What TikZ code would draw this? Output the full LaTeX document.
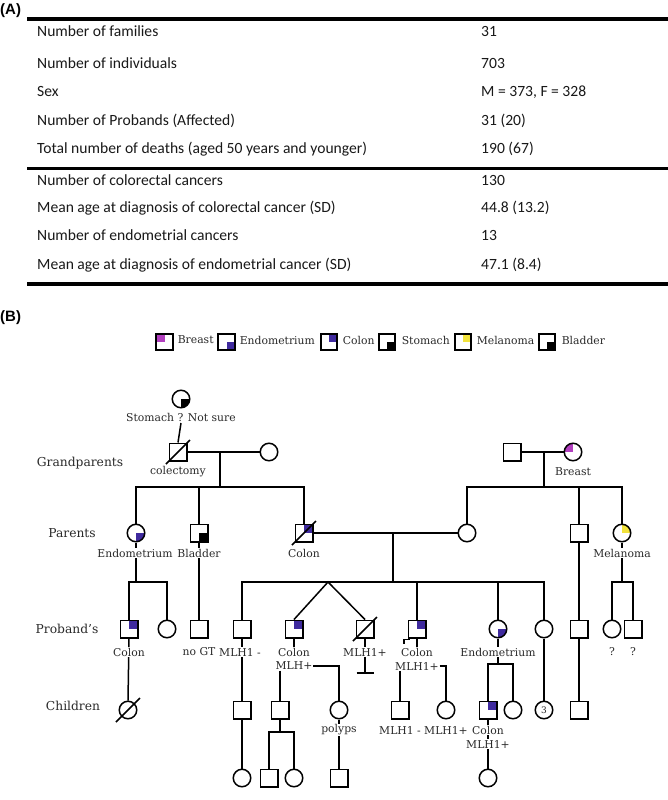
\documentclass[tikz,border=0pt]{standalone}
\usepackage{fontspec}
\setmainfont{DejaVu Serif}
\newfontfamily\tabfont{Carlito}
\newfontfamily\headfont{Liberation Sans}
\usetikzlibrary{arrows.meta}
\definecolor{purp}{HTML}{3F2A9E}
\definecolor{mag}{HTML}{B23FBF}
\definecolor{yel}{HTML}{F2E33C}
\definecolor{txt}{HTML}{2A2A2A}
\newcommand\pedfont{\fontsize{10.8}{12}\selectfont}
\begin{document}
\begin{tikzpicture}[x=1pt,y=-1pt,
  sym/.style={draw=black, line width=1.5pt, inner sep=0pt, fill=white},
  sq/.style={sym, rectangle, minimum size=17.5pt},
  ci/.style={sym, circle, minimum size=17.5pt},
  lsq/.style={draw=black, line width=2.4pt, inner sep=0pt, fill=white, rectangle, minimum size=16.5pt},
  UR/.style={path picture={\fill[#1] (path picture bounding box.center) rectangle (path picture bounding box.north east);}},
  UL/.style={path picture={\fill[#1] (path picture bounding box.center) rectangle (path picture bounding box.north west);}},
  LR/.style={path picture={\fill[#1] (path picture bounding box.center) rectangle (path picture bounding box.south east);}},
  ln/.style={line width=1.5pt, draw=black, line join=miter},
  lbl/.style={font=\pedfont, text=txt, fill=white, inner sep=0.6pt},
  lev/.style={font=\fontsize{12.3}{14}\selectfont, text=txt, inner sep=0pt},
  tab/.style={font=\tabfont\fontsize{15.6}{18}\selectfont, text=black!90, anchor=base west, inner sep=0pt},
  head/.style={font=\headfont\bfseries\fontsize{15}{18}\selectfont, anchor=west, inner sep=0pt},
]
\useasboundingbox[fill=white] (0,0) rectangle (668,800);

% ---------------- (A) table ----------------
\node[head] (hA) at (0,11) {(A)};
\draw[line width=3.5pt] (27,19) -- (668,19);
\draw[line width=3pt] (27,168) -- (668,168);
\draw[line width=3.5pt] (27,284) -- (668,284);
\node[tab] (t1) at (37,37) {Number of families};
\node[tab] (v1) at (481,37) {31};
\node[tab] (t2) at (37,69) {Number of individuals};
\node[tab] (v2) at (481,69) {703};
\node[tab] (t3) at (37,96) {Sex};
\node[tab] (v3) at (481,96) {M = 373, F = 328};
\node[tab] (t4) at (37,125) {Number of Probands (Affected)};
\node[tab] (v4) at (481,125) {31 (20)};
\node[tab] (t5) at (37,153) {Total number of deaths (aged 50 years and younger)};
\node[tab] (v5) at (481,153) {190 (67)};
\node[tab] (t6) at (37,185) {Number of colorectal cancers};
\node[tab] (v6) at (481,185) {130};
\node[tab] (t7) at (37,212) {Mean age at diagnosis of colorectal cancer (SD)};
\node[tab] (v7) at (481,212) {44.8 (13.2)};
\node[tab] (t8) at (37,240) {Number of endometrial cancers};
\node[tab] (v8) at (481,240) {13};
\node[tab] (t9) at (37,269) {Mean age at diagnosis of endometrial cancer (SD)};
\node[tab] (v9) at (481,269) {47.1 (8.4)};

% ---------------- (B) legend ----------------
\node[head] (hB) at (0,318) {(B)};
\node[lsq, UL=mag] (k1) at (164.5,342) {};
\node[lbl, anchor=west] (k1t) at (177,340) {Breast};
\node[lsq, LR=purp] (k2) at (226.5,342) {};
\node[lbl, anchor=west] (k2t) at (239,340) {Endometrium};
\node[lsq, UR=purp] (k3) at (329,342) {};
\node[lbl, anchor=west] (k3t) at (342,340) {Colon};
\node[lsq, LR=black] (k4) at (387,342) {};
\node[lbl, anchor=west] (k4t) at (401,340) {Stomach};
\node[lsq, UR=yel] (k5) at (463,342) {};
\node[lbl, anchor=west] (k5t) at (476,340) {Melanoma};
\node[lsq, LR=black] (k6) at (547,342) {};
\node[lbl, anchor=west] (k6t) at (561,340) {Bladder};

% ---------------- pedigree symbols ----------------
\node[ci, LR=black] (st) at (181,399) {};
\node[sq] (g1) at (178,452) {};
\node[ci] (g2) at (269,452) {};
\node[sq] (g3) at (512,452) {};
\node[ci, UL=mag] (g4) at (573,452) {};

\node[ci, LR=purp] (p1) at (136,533) {};
\node[sq, LR=black] (p2) at (199,533) {};
\node[sq, UR=purp] (p3) at (304,533) {};
\node[ci] (p4) at (467,533) {};
\node[sq] (p5) at (579,533) {};
\node[ci, UR=yel] (p6) at (622,533) {};

\node[sq, UR=purp] (c1) at (129,629) {};
\node[ci] (c2) at (167,629) {};
\node[sq] (c3) at (199,629) {};
\node[sq] (c4) at (242,629) {};
\node[sq, UR=purp] (c5) at (294,629) {};
\node[sq] (c6) at (365,629) {};
\node[sq, UR=purp] (c7) at (417,629) {};
\node[ci, LR=purp] (c8) at (498,629) {};
\node[ci] (c9) at (544,629) {};
\node[sq] (c10) at (579,629) {};
\node[ci] (c11) at (612,629) {};
\node[sq] (c12) at (633,629) {};

\node[ci] (d1) at (128,710) {};
\node[sq] (d2) at (242,710) {};
\node[sq] (d3) at (280,710) {};
\node[ci] (d4) at (339,710) {};
\node[sq] (d5) at (400,710) {};
\node[ci] (d6) at (446,710) {};
\node[sq, UR=purp] (d7) at (488,710) {};
\node[ci] (d8) at (513,710) {};
\node[ci, font=\fontsize{9}{10}\selectfont, text=txt] (d9) at (544,710) {3};
\node[sq] (d10) at (579,710) {};

\node[ci] (e1) at (242,778) {};
\node[sq] (e2) at (269,778) {};
\node[ci] (e3) at (294,778) {};
\node[sq] (e4) at (339,778) {};
\node[ci] (e5) at (488,778) {};

% deceased slashes
\draw[ln] ([shift={(-2.5,2.5)}]g1.south west) -- ([shift={(2.5,-2.5)}]g1.north east);
\draw[ln] ([shift={(-2.5,2.5)}]p3.south west) -- ([shift={(2.5,-2.5)}]p3.north east);
\draw[ln] ([shift={(-2.5,2.5)}]c6.south west) -- ([shift={(2.5,-2.5)}]c6.north east);
\draw[ln] ([shift={(-12,12)}]d1.center) -- ([shift={(12,-12)}]d1.center);

% proband mark
\draw[line width=1.1pt] ([shift={(-3.5,5)}]c7.south west) -- ([shift={(-3.5,1)}]c7.south west) -- ([shift={(2,1)}]c7.south west);

% ---------------- connectors ----------------
\coordinate (m1) at (220,452);
\coordinate (s1) at (220,487);
\coordinate (m2) at (544,452);
\coordinate (s2) at (544,487);
\coordinate (m3) at (393,533);
\coordinate (s3) at (393,582);
\coordinate (tw) at (328,582);
\coordinate (s4) at (136,582);
\coordinate (s5) at (622,582);
\coordinate (s6) at (498,664);
\coordinate (s7) at (280,732);

\draw[ln] (st.south |- 0,423) -- (g1.north);
\draw[ln] (g1.east) -- (g2.west);
\draw[ln] (m1) -- (s1);
\draw[ln] (p1.north) -- (p1.north |- s1) -- (p3.north |- s1) -- (p3.north);
\draw[ln] (p2.north |- s1) -- (p2.north);

\draw[ln] (g3.east) -- (g4.west);
\draw[ln] (m2) -- (s2);
\draw[ln] (p4.north) -- (p4.north |- s2) -- (p6.north |- s2) -- (p6.north);
\draw[ln] (p5.north |- s2) -- (p5.north);

\draw[ln] (p3.east) -- (p4.west);
\draw[ln] (m3) -- (s3);
\draw[ln] (c4.north) -- (c4.north |- s3) -- (c9.north |- s3) -- (c9.north);
\draw[ln] (c7.north |- s3) -- (c7.north);
\draw[ln] (c8.north |- s3) -- (c8.north);
\draw[ln] (c5.north) -- (tw) -- (c6.north);

\draw[ln] (p1.south) -- (s4);
\draw[ln] (c1.north) -- (c1.north |- s4) -- (c2.north |- s4) -- (c2.north);
\draw[ln] (p2.south) -- (c3.north);
\draw[ln] (p5.south) -- (c10.north);
\draw[ln] (c10.south) -- (d10.north);
\draw[ln] (p6.south) -- (s5);
\draw[ln] (c11.north) -- (c11.north |- s5) -- (c12.north |- s5) -- (c12.north);

\draw[ln] (c1.south) -- (d1.north);
\draw[ln] (c4.south) -- (d2.north);
\draw[ln] (d2.south) -- (e1.north);
\draw[ln] (c5.south) -- ++(0,8);
\draw[ln] (c6.south) -- ++(0,8);
\draw[ln] (c7.south) -- ++(0,8);
\draw[ln] (c8.south) -- (s6);
\draw[ln] (d7.north) -- (d7.north |- s6) -- (d8.north |- s6) -- (d8.north);
\draw[ln] (c9.south) -- (d9.north);
\draw[ln] (d7.south) -- (e5.north);
\draw[ln] (d3.south) -- (s7);
\draw[ln] (e2.north) -- (e2.north |- s7) -- (e3.north |- s7) -- (e3.north);
\draw[ln] (d4.south) -- (e4.north);

% ---------------- labels ----------------
\node[lbl] (lst) at (181,417) {Stomach ? Not sure};
\node[lbl] (lg1) at (178,472) {colectomy};
\node[lbl] (lg4) at (573,472) {Breast};
\node[lbl] (lp1) at (135,553) {Endometrium};
\node[lbl] (lp2) at (199,553) {Bladder};
\node[lbl] (lp3) at (304,553) {Colon};
\node[lbl] (lp6) at (622,553) {Melanoma};
\node[lbl] (lc1) at (129,652) {Colon};
\node[lbl] (lc3) at (199,652) {no GT};
\node[lbl] (lc4) at (240,652) {MLH1 -};
\node[lbl] (lc5) at (294,652) {Colon};
\node[lbl] (lc5b) at (294,666) {MLH+};
\node[lbl] (lc6) at (365,652) {MLH1+};
\node[lbl] (lc7) at (417,652) {Colon};
\node[lbl] (lc7b) at (417,666) {MLH1+};
\node[lbl] (lc8) at (498,652) {Endometrium};
\node[lbl] (lc11) at (612,652) {?};
\node[lbl] (lc12) at (633,652) {?};
\node[lbl] (ld4) at (339,730) {polyps};
\node[lbl] (ld5) at (400,730) {MLH1 -};
\node[lbl] (ld6) at (446,730) {MLH1+};
\node[lbl] (ld7) at (488,730) {Colon};
\node[lbl] (ld7b) at (488,744) {MLH1+};

% lines hanging from labels
\draw[ln] (lc5b.south -| d3.north) -- (d3.north);
\draw[ln] (lc5b.east) -| (d4.north);
\draw[ln] (lc6.south) -- ++(0,16) coordinate (nb);
\draw[ln] ([xshift=-8.5pt]nb) -- ([xshift=8.5pt]nb);
\draw[ln] (lc7b.south -| d5.north) -- (d5.north);
\draw[ln] (lc7b.east) -| (d6.north);

% generation labels
\node[lev] (Lg) at (80,463) {Grandparents};
\node[lev] (Lp) at (72,533) {Parents};
\node[lev] (Lc) at (67,629) {Proband's};
\node[lev] (Lk) at (73,706) {Children};
\end{tikzpicture}
\end{document}
